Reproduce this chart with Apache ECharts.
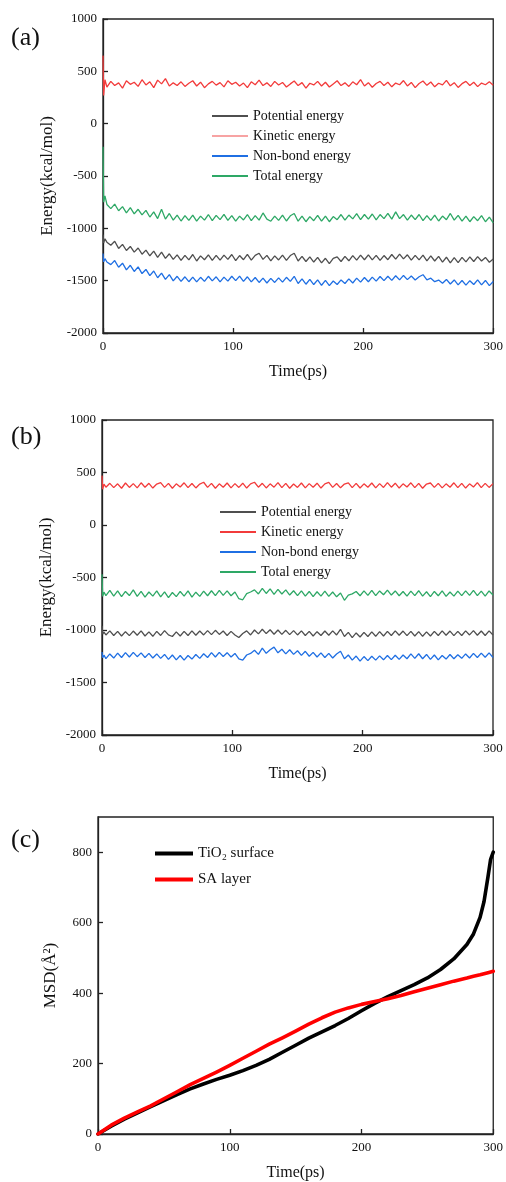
<!DOCTYPE html>
<html>
<head>
<meta charset="utf-8">
<script src="https://cdn.jsdelivr.net/npm/echarts@6/dist/echarts.min.js"></script>
<style>html,body{margin:0;padding:0;background:#fff;}#c{width:506px;height:1182px;}</style>
</head>
<body>
<div id="c"></div>
<script>
// ---------- DATA ----------
const timeE = [0,0.5,1.5,
3,6,9,12,15,18,21,24,27,30,
33,36,39,42,45,48,51,54,57,60,
63,66,69,72,75,78,81,84,87,90,
93,96,99,102,105,108,111,114,117,120,
123,126,129,132,135,138,141,144,147,150,
153,156,159,162,165,168,171,174,177,180,
183,186,189,192,195,198,201,204,207,210,
213,216,219,222,225,228,231,234,237,240,
243,246,249,252,255,258,261,264,267,270,
273,276,279,282,285,288,291,294,297,300];

const energyNames = ['Potential energy','Kinetic energy','Non-bond energy','Total energy'];

// Panel (a)
const aPotential = [-1060,-1140,-1100,
-1132,-1162,-1123,-1192,-1153,-1212,-1173,-1227,-1188,-1247,
-1208,-1262,-1218,-1277,-1228,-1287,-1243,-1297,-1253,-1307,
-1258,-1302,-1250,-1312,-1263,-1300,-1253,-1307,-1258,-1304,
-1256,-1297,-1250,-1308,-1260,-1300,-1248,-1304,-1258,-1238,
-1297,-1258,-1310,-1263,-1302,-1256,-1307,-1260,-1238,-1312,
-1268,-1317,-1273,-1322,-1278,-1330,-1286,-1337,-1288,-1273,
-1317,-1268,-1310,-1260,-1304,-1256,-1300,-1253,-1302,-1258,
-1307,-1260,-1300,-1250,-1294,-1246,-1292,-1253,-1304,-1258,
-1302,-1256,-1310,-1263,-1312,-1268,-1322,-1276,-1330,-1280,
-1327,-1278,-1320,-1273,-1317,-1270,-1312,-1278,-1324,-1293];
const aKinetic = [650,270,420,
350,404,364,390,340,410,376,396,356,420,
370,400,344,416,380,430,360,390,364,400,
356,386,410,360,396,344,380,404,368,392,
352,410,376,396,360,388,344,400,372,416,
364,390,356,404,370,394,350,380,408,364,
392,340,386,370,404,360,396,350,380,410,
364,390,356,400,372,420,360,392,348,384,
404,364,396,352,388,372,412,360,394,344,
384,408,366,398,352,386,370,414,362,392,
346,382,404,364,396,354,388,372,400,368];
const aNonbond = [-1240,-1320,-1290,
-1322,-1347,-1308,-1372,-1333,-1397,-1353,-1412,-1368,-1432,
-1393,-1452,-1408,-1472,-1428,-1487,-1443,-1502,-1458,-1507,
-1463,-1510,-1466,-1512,-1468,-1507,-1458,-1502,-1463,-1512,
-1466,-1504,-1458,-1500,-1456,-1507,-1463,-1512,-1470,-1517,
-1476,-1522,-1478,-1517,-1473,-1514,-1468,-1507,-1458,-1527,
-1483,-1534,-1488,-1537,-1493,-1544,-1498,-1547,-1503,-1537,
-1493,-1527,-1483,-1522,-1476,-1514,-1470,-1510,-1466,-1504,
-1460,-1500,-1458,-1497,-1453,-1492,-1450,-1490,-1456,-1494,
-1463,-1443,-1492,-1476,-1510,-1494,-1524,-1488,-1532,-1493,
-1540,-1498,-1542,-1500,-1537,-1493,-1540,-1498,-1547,-1508];
const aTotal = [-220,-750,-690,
-772,-812,-768,-832,-793,-852,-803,-862,-818,-872,
-828,-892,-843,-907,-818,-912,-858,-922,-873,-930,
-878,-924,-873,-932,-883,-922,-868,-927,-876,-917,
-866,-924,-878,-932,-883,-920,-868,-927,-878,-922,
-853,-912,-932,-883,-924,-873,-930,-880,-858,-932,
-883,-937,-888,-927,-876,-932,-883,-937,-888,-917,
-868,-922,-873,-910,-860,-917,-868,-912,-863,-920,
-868,-907,-858,-912,-843,-907,-868,-922,-873,-917,
-868,-927,-878,-924,-873,-930,-883,-917,-858,-922,
-876,-932,-883,-937,-888,-927,-878,-937,-893,-947];

// Panel (b)
const bPotential = [-960,-1040,-1020,
-1047,-1008,-1052,-1013,-1057,-1016,-1054,-1010,-1050,-1008,
-1057,-1018,-1060,-1013,-1052,-1006,-1047,-1062,-1018,-1057,
-1013,-1052,-1008,-1050,-1010,-1047,-1006,-1044,-1003,-1042,
-1010,-1052,-1013,-1047,-1072,-1033,-1008,-1047,-1000,-1037,
-993,-1034,-998,-1040,-1000,-1042,-1003,-1044,-1006,-1047,
-1008,-1052,-1013,-1057,-1016,-1052,-1010,-1050,-1008,-1047,
-993,-1062,-1023,-1072,-1028,-1067,-1023,-1062,-1018,-1060,
-1016,-1057,-1013,-1052,-1008,-1050,-1010,-1054,-1013,-1057,
-1016,-1060,-1018,-1057,-1013,-1052,-1008,-1050,-1010,-1054,
-1013,-1052,-1008,-1047,-1006,-1050,-1010,-1052,-1008,-1047];
const bKinetic = [470,340,390,
360,397,356,392,350,400,358,394,354,402,
360,397,352,390,404,358,396,350,392,362,
402,356,395,353,390,407,358,396,350,392,
360,400,354,394,358,398,352,392,407,360,
397,353,392,360,404,356,396,350,390,358,
400,354,394,360,398,352,392,406,358,395,
354,390,402,356,396,352,392,360,400,354,
394,358,404,360,398,352,392,362,402,356,
396,350,390,400,358,396,354,392,360,402,
356,397,352,392,362,404,356,396,358,394];
const bNonbond = [-1210,-1265,-1240,
-1272,-1228,-1267,-1220,-1262,-1216,-1257,-1213,-1254,-1218,
-1262,-1223,-1267,-1228,-1270,-1233,-1280,-1238,-1284,-1243,
-1287,-1243,-1277,-1233,-1270,-1226,-1262,-1216,-1257,-1213,
-1252,-1216,-1257,-1223,-1274,-1287,-1238,-1223,-1193,-1232,
-1173,-1222,-1188,-1163,-1217,-1183,-1227,-1188,-1232,-1198,
-1242,-1203,-1250,-1213,-1257,-1218,-1262,-1223,-1267,-1228,
-1203,-1274,-1238,-1287,-1248,-1297,-1253,-1292,-1250,-1287,
-1246,-1284,-1243,-1282,-1240,-1280,-1238,-1274,-1228,-1270,
-1226,-1274,-1233,-1280,-1238,-1284,-1243,-1277,-1233,-1274,
-1236,-1270,-1228,-1267,-1223,-1262,-1220,-1260,-1218,-1262];
const bTotal = [-470,-680,-640,
-672,-623,-677,-628,-682,-633,-672,-618,-680,-633,
-687,-638,-677,-628,-684,-636,-692,-643,-682,-633,
-677,-628,-687,-640,-680,-630,-674,-626,-672,-623,
-670,-628,-674,-638,-702,-712,-653,-638,-618,-657,
-603,-652,-608,-660,-613,-657,-618,-667,-626,-672,
-628,-677,-633,-682,-636,-677,-630,-680,-638,-684,
-648,-717,-668,-656,-633,-674,-628,-670,-623,-672,
-628,-664,-620,-667,-628,-674,-633,-677,-630,-672,
-626,-677,-636,-682,-633,-674,-628,-680,-638,-677,
-630,-672,-628,-670,-623,-672,-630,-677,-628,-667];

// Panel (c)
const timeMSD = [0,10,20,30,40,50,60,70,80,90,100,110,120,130,140,150,160,170,180,190,200,210,220,230,240,250,260,270,280,285,290,293,296,298,300];
const msdNames = ['TiO\u2082 surface','SA layer'];
const msdTiO2 = [0,22,42,60,78,95,112,128,142,155,167,180,195,212,232,252,272,290,308,328,350,371,390,407,424,443,467,497,538,568,615,660,730,780,800];
const msdSA   = [0,25,45,63,80,100,120,140,158,176,195,215,235,255,273,292,312,330,346,358,368,376,384,393,404,414,424,434,443,448,452,455,458,460,462];

// ---------- CHART ----------
const FONT = "'Liberation Serif','Times New Roman','DejaVu Serif',serif";
const AX = '#222';
const energyColors = ['#4f4f4f','#f23b3b','#1f6fe3','#2ea866'];

function pairs(t, v) { return t.map((x, i) => [x, v[i]]); }

function xAxisCfg(gi) {
  return {
    gridIndex: gi, type: 'value', min: 0, max: 300, interval: 100,
    name: 'Time(ps)', nameLocation: 'middle', nameGap: 31,
    nameTextStyle: {fontFamily: FONT, fontSize: 16, color: '#111'},
    axisLine: {onZero: false, lineStyle: {color: AX, width: 1.3}},
    axisTick: {inside: true, length: 5, lineStyle: {color: AX, width: 1.3}},
    axisLabel: {fontFamily: FONT, fontSize: 13, color: '#111', margin: 7, formatter: v => String(v)},
    splitLine: {show: false}
  };
}
function yAxisCfg(gi, name, min, max, interval, gap) {
  return {
    gridIndex: gi, type: 'value', min: min, max: max, interval: interval,
    name: name, nameLocation: 'middle', nameGap: gap,
    nameTextStyle: {fontFamily: FONT, fontSize: 17, color: '#111'},
    axisLine: {show: true, onZero: false, lineStyle: {color: AX, width: 1.3}},
    axisTick: {show: true, inside: true, length: 5, lineStyle: {color: AX, width: 1.3}},
    axisLabel: {fontFamily: FONT, fontSize: 13, color: '#111', margin: 6, showMaxLabel: max === 1000, formatter: v => String(v)},
    splitLine: {show: false}
  };
}
function energySeries(gi, arrs) {
  return arrs.map((v, i) => ({
    type: 'line', name: energyNames[i], xAxisIndex: gi, yAxisIndex: gi,
    data: pairs(timeE, v), symbol: 'none', showSymbol: false,
    lineStyle: {color: energyColors[i], width: 1.3}, itemStyle: {color: energyColors[i]},
    z: i === 1 ? 3 : 2
  }));
}
function legendCfg(left, top, names, colors, w, h, gap, fs) {
  return {
    orient: 'vertical', left: left, top: top, padding: 0,
    icon: 'rect', itemWidth: w, itemHeight: h, itemGap: gap,
    textStyle: {fontFamily: FONT, fontSize: fs, color: '#111'},
    selectedMode: false,
    data: names.map((n, i) => ({name: n, icon: 'rect', itemStyle: {color: colors[i], borderWidth: 0}}))
  };
}

const gridBase = {show: true, borderColor: AX, borderWidth: 1.3, backgroundColor: 'transparent'};

const option = {
  animation: false,
  backgroundColor: '#fff',
  title: [
    {text: '(a)', left: 11, top: 25, padding: 0, textStyle: {fontFamily: FONT, fontSize: 26, fontWeight: 'normal', color: '#111'}},
    {text: '(b)', left: 11, top: 424, padding: 0, textStyle: {fontFamily: FONT, fontSize: 26, fontWeight: 'normal', color: '#111'}},
    {text: '(c)', left: 11, top: 827, padding: 0, textStyle: {fontFamily: FONT, fontSize: 26, fontWeight: 'normal', color: '#111'}}
  ],
  grid: [
    Object.assign({left: 103, top: 19, width: 391, height: 314}, gridBase),
    Object.assign({left: 102, top: 420, width: 391, height: 315}, gridBase),
    Object.assign({left: 98, top: 817, width: 396, height: 319}, gridBase)
  ],
  legend: [
    legendCfg(212, 109, energyNames, ['#4f4f4f','#f7a3a3','#1f6fe3','#2ea866'], 36, 2, 6, 14),
    legendCfg(220, 505, energyNames, energyColors, 36, 2, 6, 14),
    legendCfg(155, 846, msdNames, ['#000','#ff0000'], 38, 4, 11, 15)
  ],
  xAxis: [xAxisCfg(0), xAxisCfg(1), xAxisCfg(2)],
  yAxis: [
    yAxisCfg(0, 'Energy(kcal/mol)', -2000, 1000, 500, 45),
    yAxisCfg(1, 'Energy(kcal/mol)', -2000, 1000, 500, 45),
    yAxisCfg(2, 'MSD(\u00C5\u00B2)', 0, 900, 200, 39)
  ],
  series: [].concat(
    energySeries(0, [aPotential, aKinetic, aNonbond, aTotal]),
    energySeries(1, [bPotential, bKinetic, bNonbond, bTotal]),
    [
      {type: 'line', name: msdNames[0], xAxisIndex: 2, yAxisIndex: 2, data: pairs(timeMSD, msdTiO2), symbol: 'none', lineStyle: {color: '#000', width: 3.6, join: 'round', cap: 'round'}, itemStyle: {color: '#000'}},
      {type: 'line', name: msdNames[1], xAxisIndex: 2, yAxisIndex: 2, data: pairs(timeMSD, msdSA), symbol: 'none', lineStyle: {color: '#ff0000', width: 3.6, join: 'round', cap: 'round'}, itemStyle: {color: '#ff0000'}, z: 3}
    ]
  )
};

const chart = echarts.init(document.getElementById('c'), null, {renderer: 'canvas'});
chart.setOption(option);
</script>
</body>
</html>
